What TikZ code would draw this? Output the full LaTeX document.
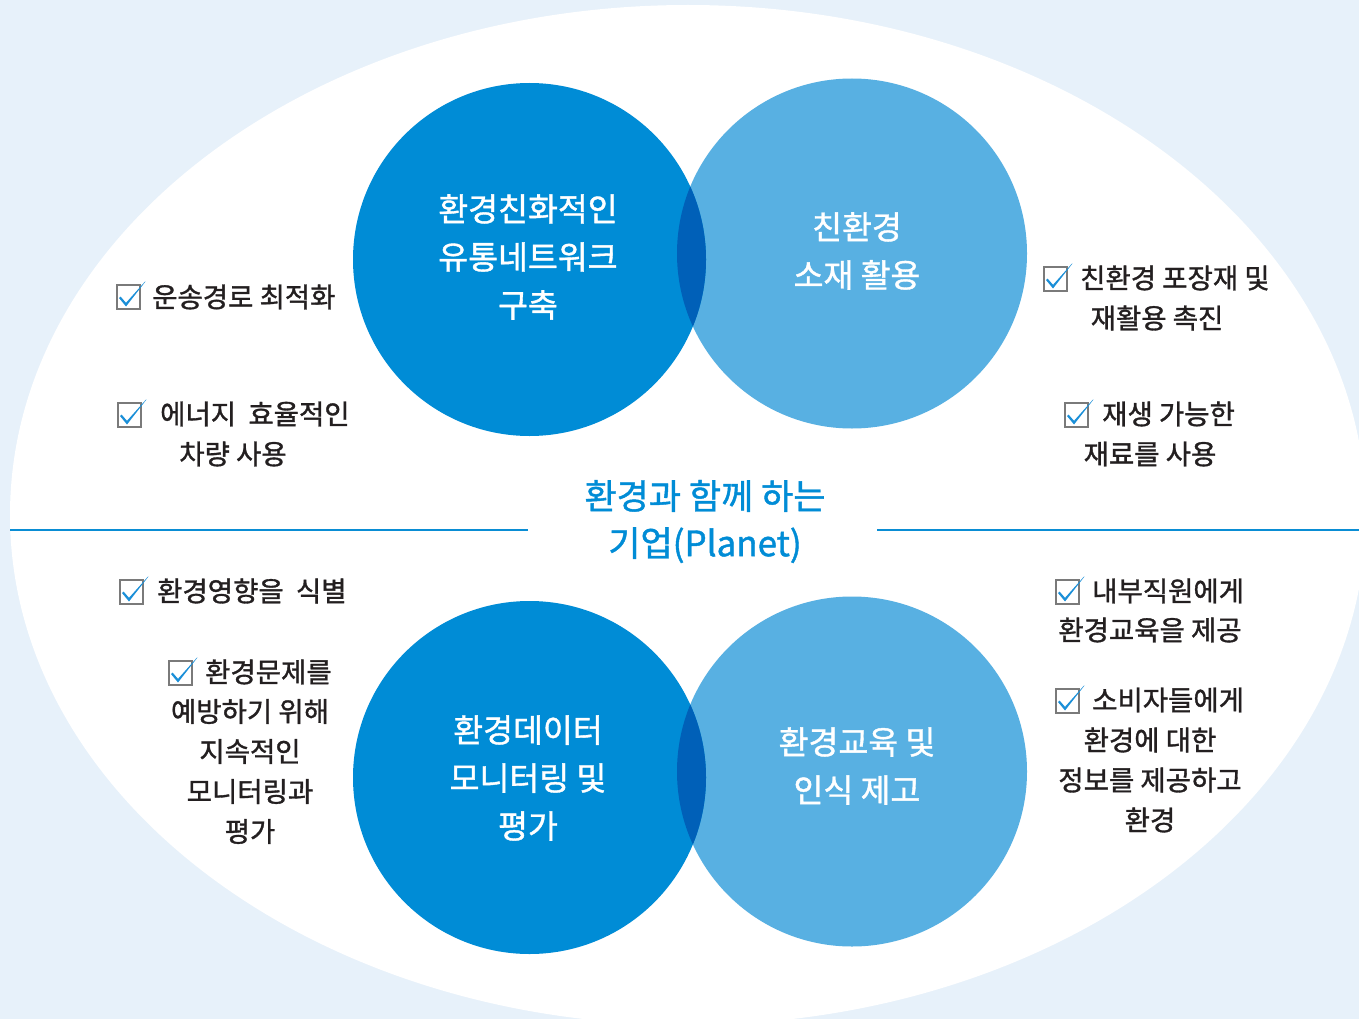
\documentclass[tikz,border=0pt]{standalone}
\usepackage{fontspec}
\setmainfont{Noto Sans CJK KR}
\newfontfamily\krmed{Noto Sans CJK KR}[FakeBold=1.2]
\definecolor{bgblue}{HTML}{E7F1FA}
\definecolor{dkblue}{HTML}{008CD6}
\definecolor{ltblue}{HTML}{58B0E2}
\definecolor{lensblue}{HTML}{0060B8}
\definecolor{txtgray}{HTML}{231F20}
\definecolor{chkblue}{HTML}{1A8FD8}
\definecolor{boxgray}{HTML}{7A7A7A}
\definecolor{lineblue}{HTML}{0A8DD4}
\tikzset{
  chkbox/.pic={
    \draw[boxgray, line width=1.2pt] (0,0) rectangle (23,24);
    \fill[chkblue] (2,13) -- (9,21.5) -- (28.5,-3.5) -- (27.8,-3.2) -- (9,17.8) -- (3.6,11.6) -- cycle;
  },
  body/.style={text=txtgray, font=\krmed\fontsize{27.5}{40}\selectfont, inner sep=0pt},
  ctext/.style={text=white, font=\krmed\fontsize{32.5}{48}\selectfont, align=center, inner sep=0pt},
  ttext/.style={text=dkblue, font=\krmed\fontsize{35}{47}\selectfont, align=center, inner sep=0pt},
  hline/.style={draw=lineblue, line width=1.5pt}
}
\begin{document}
\begin{tikzpicture}[x=1pt,y=-1pt]
\useasboundingbox (0,0) rectangle (1359,1019);
\clip (0,0) rectangle (1359,1019);
\fill[bgblue] (0,0) rectangle (1359,1019);
\fill[white] (688,515) ellipse [x radius=678pt, y radius=510pt];

% divider line
\coordinate (lA) at (10,530);
\coordinate (lB) at (528,530);
\coordinate (rA) at (877,530);
\coordinate (rB) at (1366,530);
\draw[hline] (lA) -- (lB);
\draw[hline] (rA) -- (rB);

% top pair of circles
\fill[ltblue] (852,253.5) circle[radius=175pt];
\fill[dkblue] (529.5,259.5) circle[radius=176.5pt];
\begin{scope}
  \clip (852,253.5) circle[radius=175pt];
  \fill[lensblue] (529.5,259.5) circle[radius=176.5pt];
\end{scope}
% bottom pair of circles
\fill[ltblue] (852,771.5) circle[radius=175pt];
\fill[dkblue] (529.5,777.5) circle[radius=176.5pt];
\begin{scope}
  \clip (852,771.5) circle[radius=175pt];
  \fill[lensblue] (529.5,777.5) circle[radius=176.5pt];
\end{scope}

% circle texts
\node[ctext] (t1) at (528,257) {환경친화적인\\유통네트워크\\구축};
\node[ctext] (t2) at (857,251) {친환경\\소재 활용};
\node[ctext] (t3) at (528,778) {환경데이터\\모니터링 및\\평가};
\node[ctext] (t4) at (857,766) {환경교육 및\\인식 제고};
\node[ttext] (tt) at (705,521.5) {환경과 함께 하는\\기업(Planet)};

% left side items
\pic at (117,285) {chkbox};
\node[body, anchor=west] (a1) at (152,297) {운송경로 최적화};
\pic at (118,403) {chkbox};
\node[body, anchor=west] (a2) at (160,414) {에너지~~효율적인};
\node[body] (a2b) at (233,454) {차량 사용};
\pic at (120,580) {chkbox};
\node[body, anchor=west] (a3) at (157,591) {환경영향을~~식별};
\pic at (169,661) {chkbox};
\node[body, anchor=west] (a4) at (205,672) {환경문제를};
\node[body, align=center] (a4b) at (250,771.5) {예방하기 위해\\지속적인\\모니터링과\\평가};

% right side items
\pic at (1044,267) {chkbox};
\node[body, anchor=west] (b1) at (1080,278) {친환경 포장재 및};
\node[body] (b1b) at (1157,318) {재활용 촉진};
\pic at (1065,403) {chkbox};
\node[body, anchor=west] (b2) at (1102,414) {재생 가능한};
\node[body] (b2b) at (1150,454) {재료를 사용};
\pic at (1056,580) {chkbox};
\node[body, anchor=west] (b3) at (1092,591) {내부직원에게};
\node[body] (b3b) at (1150,630) {환경교육을 제공};
\pic at (1056,689) {chkbox};
\node[body, anchor=west] (b4) at (1092,700) {소비자들에게};
\node[body, align=center] (b4b) at (1150,780) {환경에 대한\\정보를 제공하고\\환경};
\end{tikzpicture}
\end{document}
